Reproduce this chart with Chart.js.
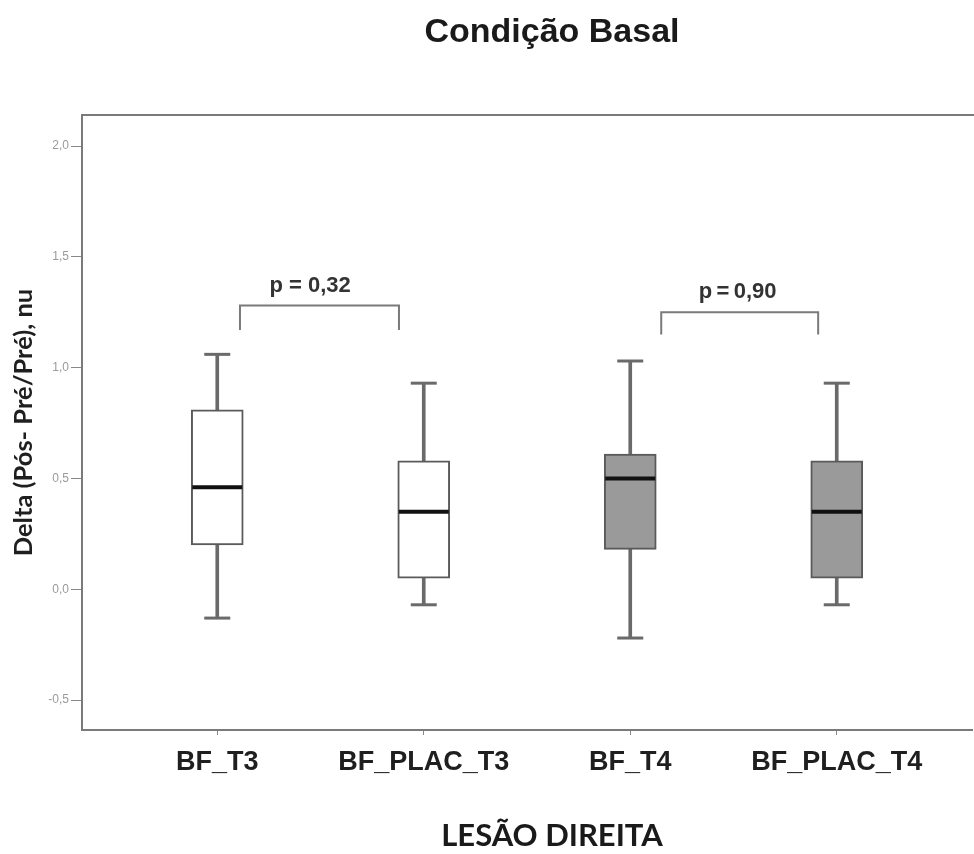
<!DOCTYPE html>
<html lang="pt">
<head>
    <meta charset="UTF-8">
    <title>Condição Basal</title>
    <script src="https://cdn.jsdelivr.net/npm/chart.js@4.4.0/dist/chart.umd.min.js"></script>
    <style>
        html, body {
            margin: 0;
            padding: 0;
            background: #fff;
        }
        #wrap {
            width: 974px;
            height: 854px;
            position: relative;
        }
    </style>
</head>
<body>
    <div id="wrap">
        <canvas id="boxChart"></canvas>
    </div>

    <script>
        // Box plot values
        const categories = ['BF_T3', 'BF_PLAC_T3', 'BF_T4', 'BF_PLAC_T4'];
        const whiskerLow = [-0.13, -0.07, -0.22, -0.07];
        const q1 = [0.20, 0.05, 0.18, 0.05];
        const median = [0.46, 0.35, 0.50, 0.35];
        const q3 = [0.81, 0.58, 0.61, 0.58];
        const whiskerHigh = [1.06, 0.93, 1.03, 0.93];
        const yTicks = [-0.5, 0.0, 0.5, 1.0, 1.5, 2.0];

        // p-value brackets (from/to in category units, height in data units)
        const brackets = [
            { from: 0.11, to: 0.88, top: 1.28, leg: 1.17, label: 'p = 0,32', lx: 0.45, ly: 1.37 },
            { from: 2.15, to: 2.91, top: 1.25, leg: 1.15, label: 'p\u2009=\u20090,90', lx: 2.52, ly: 1.34 }
        ];

        const boxFill = ['#ffffff', '#ffffff', '#9a9a9a', '#9a9a9a'];
        const idx = categories.map((c, i) => i);

        const bracketData = [];
        brackets.forEach((b, k) => {
            if (k > 0) bracketData.push({ x: b.from, y: null });
            bracketData.push({ x: b.from, y: b.leg });
            bracketData.push({ x: b.from, y: b.top });
            bracketData.push({ x: b.to, y: b.top });
            bracketData.push({ x: b.to, y: b.leg });
        });

        const decorPlugin = {
            id: 'decor',
            beforeDraw(chart) {
                const ctx = chart.ctx;
                ctx.save();
                ctx.fillStyle = '#fff';
                ctx.fillRect(0, 0, chart.width, chart.height);
                ctx.restore();
            },
            afterDraw(chart) {
                const ctx = chart.ctx;
                const a = chart.chartArea;
                const xs = chart.scales.x, ys = chart.scales.y;
                ctx.save();
                // top frame line
                ctx.strokeStyle = '#7a7a7a';
                ctx.lineWidth = 2;
                ctx.beginPath();
                ctx.moveTo(a.left, a.top);
                ctx.lineTo(chart.width, a.top);
                ctx.stroke();
                // title
                ctx.fillStyle = '#1a1a1a';
                ctx.font = 'bold 34px "Liberation Sans", Arial, sans-serif';
                ctx.textAlign = 'center';
                ctx.textBaseline = 'alphabetic';
                ctx.fillText('Condição Basal', 552, 42);
                // x axis title
                ctx.font = 'bold 31px Lato, sans-serif';
                ctx.textBaseline = 'middle';
                ctx.fillText('LESÃO DIREITA', 552, 836);
                // p-values
                ctx.font = 'bold 22px "Liberation Sans", Arial, sans-serif';
                ctx.fillStyle = '#333';
                brackets.forEach(b => {
                    ctx.fillText(b.label, xs.getPixelForValue(b.lx), ys.getPixelForValue(b.ly));
                });
                ctx.restore();
            }
        };

        new Chart(document.getElementById('boxChart'), {
            type: 'bar',
            data: {
                datasets: [
                    {
                        type: 'scatter',
                        label: 'mediana',
                        data: idx.map(i => ({ x: i, y: median[i] })),
                        pointStyle: 'line',
                        pointRadius: 25,
                        pointHoverRadius: 25,
                        borderColor: '#111',
                        borderWidth: 4,
                        order: 0
                    },
                    {
                        type: 'scatter',
                        label: 'caps',
                        data: idx.map(i => ({ x: i, y: whiskerHigh[i] }))
                            .concat(idx.map(i => ({ x: i, y: whiskerLow[i] }))),
                        pointStyle: 'line',
                        pointRadius: 13,
                        pointHoverRadius: 13,
                        borderColor: '#6a6a6a',
                        borderWidth: 3,
                        order: 1
                    },
                    {
                        label: 'caixa',
                        data: idx.map(i => ({ x: i, y: [q1[i], q3[i]] })),
                        backgroundColor: boxFill,
                        borderColor: '#5a5a5a',
                        borderWidth: 2,
                        borderSkipped: false,
                        barThickness: 52,
                        grouped: false,
                        order: 2
                    },
                    {
                        label: 'bigodes',
                        data: idx.map(i => ({ x: i, y: [whiskerLow[i], whiskerHigh[i]] })),
                        backgroundColor: '#6a6a6a',
                        barThickness: 3,
                        grouped: false,
                        order: 3
                    },
                    {
                        type: 'line',
                        label: 'p',
                        data: bracketData,
                        borderColor: '#7a7a7a',
                        borderWidth: 2,
                        pointRadius: 0,
                        spanGaps: false,
                        order: 4
                    }
                ]
            },
            options: {
                responsive: true,
                maintainAspectRatio: false,
                animation: false,
                layout: { autoPadding: false, padding: { top: 115, right: 2, left: 0, bottom: 0 } },
                plugins: {
                    legend: { display: false },
                    tooltip: { enabled: false }
                },
                scales: {
                    x: {
                        type: 'linear',
                        min: -0.655,
                        max: 3.655,
                        offset: false,
                        border: { color: '#7a7a7a', width: 2 },
                        grid: { drawOnChartArea: false, offset: false, tickLength: 5, color: '#888', tickWidth: 1 },
                        ticks: {
                            stepSize: 1,
                            includeBounds: false,
                            autoSkip: false,
                            maxRotation: 0,
                            padding: 11,
                            color: '#1f1f1f',
                            font: { family: 'Liberation Sans', weight: 'bold', size: 27 },
                            callback: v => categories[v] || ''
                        },
                        afterFit: s => {
                            s.height = 124;
                            s.paddingLeft = 0;
                            s.paddingRight = 0;
                        }
                    },
                    y: {
                        min: -0.635,
                        max: 2.14,
                        border: { color: '#7a7a7a', width: 2 },
                        grid: { drawOnChartArea: false, tickLength: 11, color: '#888' },
                        afterBuildTicks: s => { s.ticks = yTicks.map(v => ({ value: v })); },
                        ticks: {
                            includeBounds: false,
                            padding: 2,
                            color: '#9a9a9a',
                            font: { family: 'Liberation Sans', size: 12 },
                            callback: v => v.toFixed(1).replace('.', ',')
                        },
                        title: {
                            display: true,
                            text: 'Delta (Pós- Pré/Pré), nu',
                            color: '#1f1f1f',
                            font: { family: 'Lato', weight: 'bold', size: 25.5 },
                            padding: { top: 8, bottom: 0 }
                        },
                        afterFit: s => {
                            s.width = 82;
                            s.paddingTop = 0;
                            s.paddingBottom = 0;
                        }
                    }
                }
            },
            plugins: [decorPlugin]
        });
    </script>
</body>
</html>
